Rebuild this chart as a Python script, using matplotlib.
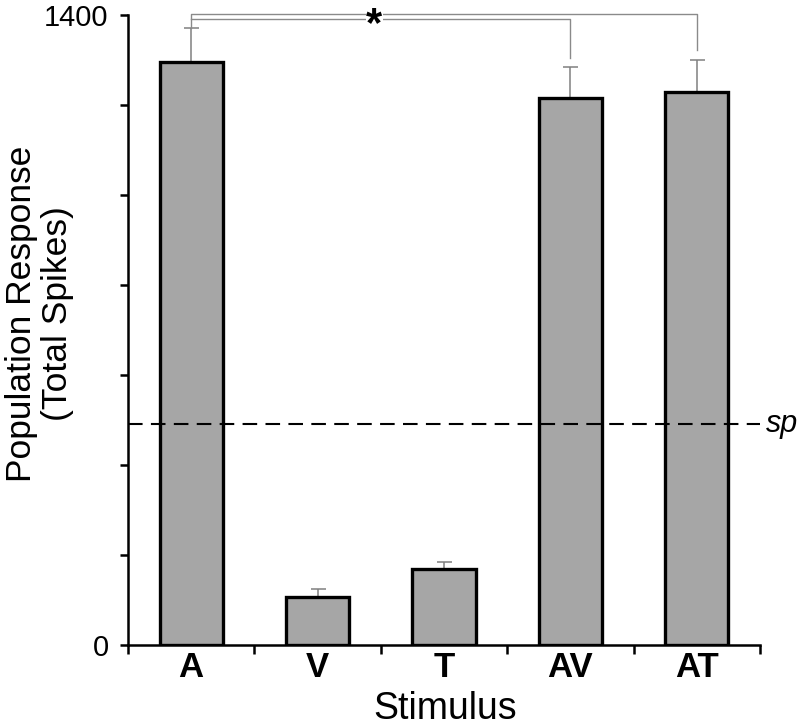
import matplotlib
matplotlib.use("Agg")
import matplotlib.pyplot as plt
import numpy as np

plt.rcParams['font.family'] = ['Liberation Sans', 'DejaVu Sans']

categories = ["A", "V", "T", "AV", "AT"]
values = [1296, 107, 169, 1215, 1230]
errors = [75, 17, 16, 69, 70]
spont = 491
yticks = [0, 200, 400, 600, 800, 1000, 1200, 1400]
ytick_labels = ["0", "", "", "", "", "", "", "1400"]

fig = plt.figure(figsize=(8, 7.26), dpi=100)
ax = fig.add_axes([0.16, 1 - 645 / 726, 0.79, 630 / 726])

x = np.arange(len(categories))
ax.errorbar(x, values, yerr=[np.zeros(len(values)), errors], fmt='none',
            ecolor='#808080', elinewidth=1.1, capsize=5.4, capthick=1.1, zorder=1)
ax.bar(x, values, width=0.5, color='#a6a6a6', edgecolor='black', linewidth=2.4, zorder=2)

ax.axhline(spont, color='black', lw=1.5, dashes=(7, 4), zorder=3)
ax.text(1.01, spont, 'sp', transform=ax.get_yaxis_transform(), fontsize=22,
        style='italic', va='center', ha='left')

# significance brackets
gc = '#8a8a8a'
ax.plot([0, 0, 4, 4], [1371, 1402, 1402, 1322], color=gc, lw=1.0, clip_on=False, zorder=1)
ax.plot([0, 3, 3], [1391, 1391, 1304], color=gc, lw=1.0, clip_on=False, zorder=1)
ax.text(1.45, 1378, '*', fontsize=30, fontweight='bold', ha='center', va='center',
        bbox=dict(facecolor='white', edgecolor='none', pad=0.5), clip_on=False, zorder=4)

ax.set_xlim(-0.5, len(categories) - 0.5)
ax.set_ylim(0, 1400)
ax.set_yticks(yticks)
ax.set_yticklabels(ytick_labels)
ax.set_xticks(np.arange(-0.5, len(categories), 1.0))
ax.set_xticklabels([])
ax.set_xticks(x, minor=True)
ax.set_xticklabels(categories, minor=True, fontsize=25, fontweight='bold')

ax.tick_params(axis='y', direction='out', length=6, width=1.8, labelsize=21, pad=8)
ax.tick_params(axis='x', which='major', direction='out', length=6.5, width=1.8)
ax.tick_params(axis='x', which='minor', length=0, pad=4)

for s in ['top', 'right']:
    ax.spines[s].set_visible(False)
for s in ['left', 'bottom']:
    ax.spines[s].set_linewidth(1.8)

fig.text(0.049, 1 - 314 / 726, 'Population Response\n(Total Spikes)', rotation=90,
         ha='center', va='center', multialignment='center', fontsize=25.5, linespacing=1.1)
fig.text(445 / 800, 1 - 719 / 726, 'Stimulus', ha='center', va='baseline', fontsize=27)

fig.savefig('out.png', dpi=100)
